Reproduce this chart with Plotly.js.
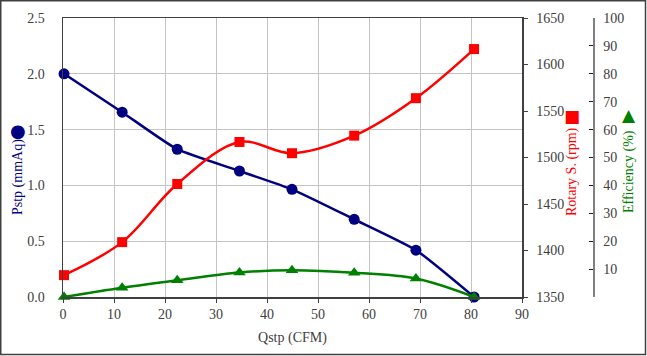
<!DOCTYPE html>
<html>
<head>
<meta charset="utf-8">
<script src="https://cdn.plot.ly/plotly-3.0.1.min.js"></script>
<style>
html,body{margin:0;padding:0;background:#fff;}
#chart{width:647px;height:356px;}
</style>
</head>
<body>
<div id="chart"></div>
<script>
// Data
const qstp = [0.2, 11.6, 22.4, 34.6, 44.9, 57.1, 69.2, 80.6];
const pstp = [2.00, 1.656, 1.324, 1.129, 0.965, 0.696, 0.42, 0.0];
const rotary = [1373.5, 1409, 1471.5, 1516.7, 1504.6, 1523.5, 1563.8, 1616.6];
const efficiency = [0.0, 3.3, 6.0, 8.8, 9.6, 8.7, 6.6, 0.0];
const xTicks = [0, 10, 20, 30, 40, 50, 60, 70, 80, 90];
const pTicks = [0, 0.5, 1.0, 1.5, 2.0, 2.5];
const rTicks = [1350, 1400, 1450, 1500, 1550, 1600, 1650];
const eTicks = [10, 20, 30, 40, 50, 60, 70, 80, 90, 100];
const titles = {x: 'Qstp (CFM)', p: 'Pstp (mmAq)', r: 'Rotary S. (rpm)', e: 'Efficiency (%)'};

const W = 647, H = 356;
const mL = 63, mR = 647 - 593, mT = 18, mB = 59;
const pw = W - mL - mR, ph = H - mT - mB;
const px = v => (v - mL) / pw;
const py = v => (H - mB - v) / ph;
const plotRight = 522;

const serif = 'Liberation Serif, Times New Roman, serif';
const tickFont = {family: serif, size: 14, color: '#404040'};
const frame = '#404040';
const grid = '#c4c4c4';
const NAVY = '#000080', RED = '#ff0000', GREEN = '#008000';

const traces = [
  {x: qstp, y: pstp, type: 'scatter', mode: 'lines+markers', name: 'Pstp',
   line: {color: NAVY, width: 2.5, shape: 'spline', smoothing: 0.5},
   marker: {symbol: 'circle', size: 11, color: NAVY}, xaxis: 'x', yaxis: 'y', cliponaxis: false},
  {x: qstp, y: rotary, type: 'scatter', mode: 'lines+markers', name: 'Rotary S.',
   line: {color: RED, width: 2.5, shape: 'spline', smoothing: 1},
   marker: {symbol: 'square', size: 10, color: RED}, xaxis: 'x', yaxis: 'y2', cliponaxis: false},
  {x: qstp, y: efficiency, type: 'scatter', mode: 'lines+markers', name: 'Efficiency',
   line: {color: GREEN, width: 2.5, shape: 'spline', smoothing: 1},
   marker: {symbol: 'triangle-up', size: 11, color: GREEN}, xaxis: 'x', yaxis: 'y3', cliponaxis: false}
];

function vtext(text, x, y, color, size) {
  return {text: text, xref: 'paper', yref: 'paper', x: px(x), y: py(y),
    xanchor: 'center', yanchor: 'middle', textangle: -90, showarrow: false,
    font: {family: serif, size: size, color: color}};
}
function sym(text, x, y, color, size) {
  return {text: text, xref: 'paper', yref: 'paper', x: px(x), y: py(y),
    xanchor: 'center', yanchor: 'middle', showarrow: false,
    font: {family: 'DejaVu Sans', size: size, color: color}};
}

const layout = {
  width: W, height: H,
  margin: {l: mL, r: mR, t: mT, b: mB},
  paper_bgcolor: '#ffffff', plot_bgcolor: '#ffffff',
  showlegend: false,
  font: tickFont,
  xaxis: {
    domain: [0, px(plotRight)],
    range: [0, 90], tickvals: xTicks, ticktext: xTicks.map(String),
    showgrid: true, gridcolor: grid, gridwidth: 1, zeroline: false,
    showline: true, linecolor: frame, linewidth: 1.5, mirror: true,
    ticks: 'outside', ticklen: 4, tickcolor: frame, tickfont: tickFont,
    title: {text: titles.x, font: {family: serif, size: 14, color: '#404040'}, standoff: 11}
  },
  yaxis: {
    range: [0, 2.5], tickvals: pTicks, ticktext: pTicks.map(v => v.toFixed(1)),
    showgrid: true, gridcolor: grid, gridwidth: 1, zeroline: false,
    showline: true, linecolor: frame, linewidth: 1.5,
    ticks: 'outside', ticklen: 0, tickfont: tickFont, ticklabelstandoff: 14
  },
  yaxis2: {
    range: [1350, 1650], tickvals: rTicks, ticktext: rTicks.map(String),
    overlaying: 'y', side: 'right', anchor: 'x',
    showgrid: false, zeroline: false,
    showline: true, linecolor: frame, linewidth: 1.5,
    ticks: 'outside', ticklen: 4, tickcolor: frame, tickfont: tickFont, ticklabelstandoff: 6
  },
  yaxis3: {
    range: [0, 100], tickvals: eTicks, ticktext: eTicks.map(String),
    overlaying: 'y', side: 'right', anchor: 'free', position: 1,
    showgrid: false, zeroline: false,
    showline: true, linecolor: '#808080', linewidth: 1.5,
    ticks: 'inside', ticklen: 4, tickcolor: '#202020', tickfont: tickFont, ticklabelstandoff: 6
  },
  annotations: [
    vtext(titles.p, 18, 177, NAVY, 14),
    sym('●', 18, 130, NAVY, 18),
    vtext(titles.r, 572, 172, RED, 14),
    sym('■', 572, 116, RED, 17),
    vtext(titles.e, 629, 172, GREEN, 14),
    sym('▲', 629, 115, GREEN, 17)
  ],
  shapes: [
    {type: 'rect', xref: 'paper', yref: 'paper',
     x0: px(0.75), x1: px(645.5), y0: py(354.5), y1: py(0.75),
     line: {color: '#404040', width: 1.5}, fillcolor: 'rgba(0,0,0,0)', layer: 'below'}
  ]
};

Plotly.newPlot('chart', traces, layout, {displayModeBar: false, staticPlot: true});
</script>
</body>
</html>
